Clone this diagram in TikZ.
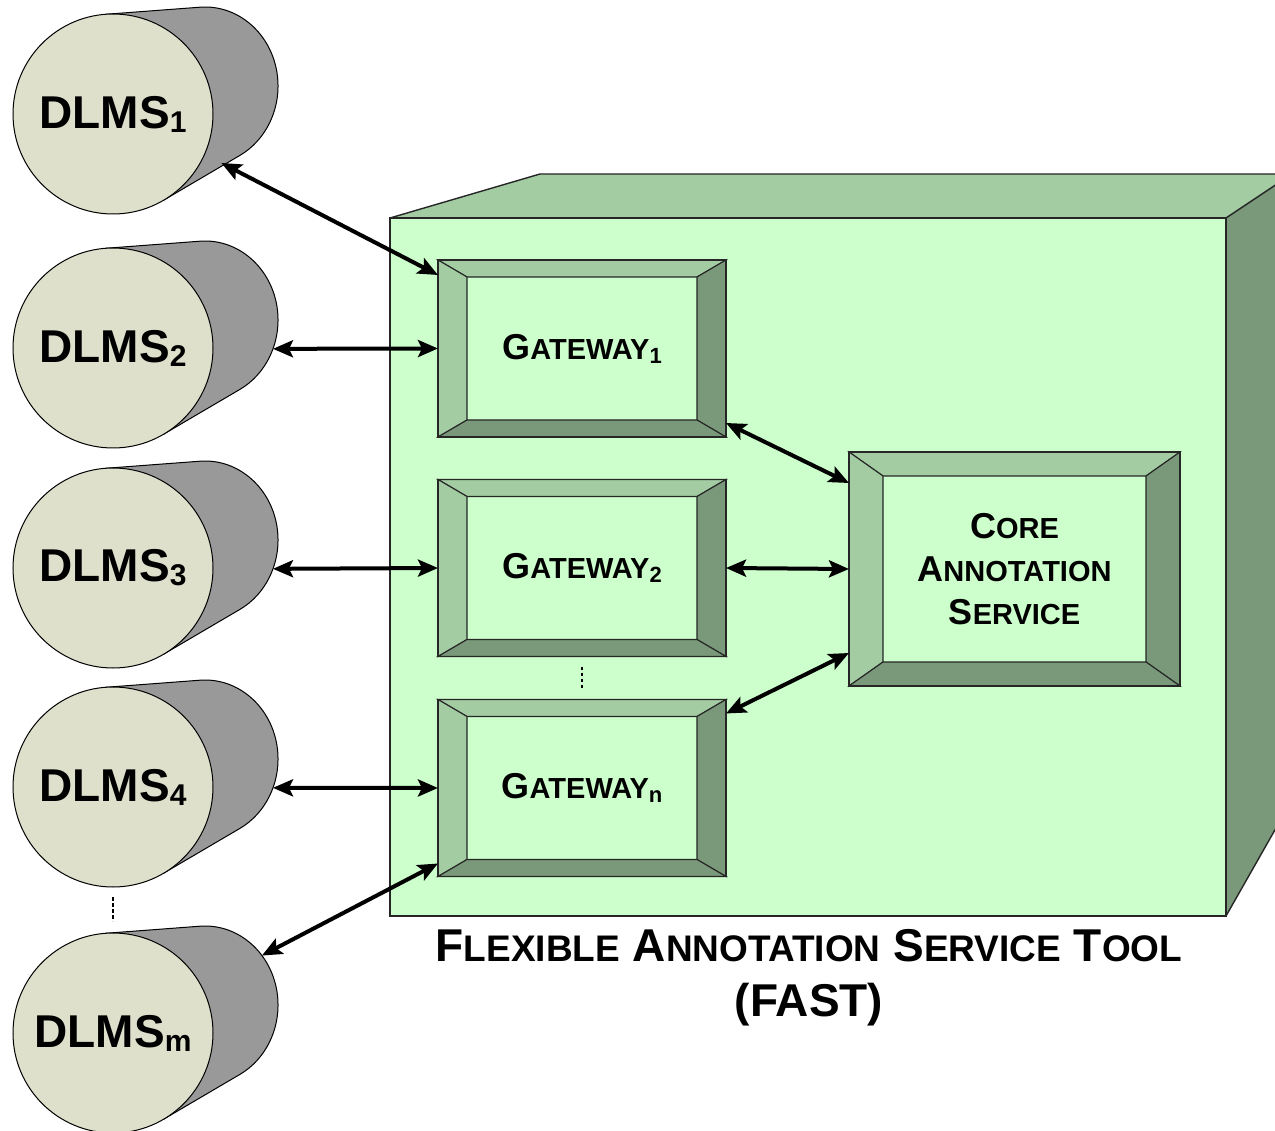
\documentclass[tikz,border=0pt]{standalone}
\usepackage{fontspec}
\setmainfont{Liberation Sans}
\usetikzlibrary{shapes.geometric,arrows.meta,calc}
\definecolor{facefront}{HTML}{CCFFCC}
\definecolor{facelight}{HTML}{A3CCA3}
\definecolor{facedark}{HTML}{7A997A}
\definecolor{cylfront}{HTML}{DEE0CB}
\definecolor{cylback}{HTML}{999999}
\newcommand\fs[2]{{\fontsize{#1}{#1}\selectfont #2}}
\newcommand\capsc[2]{\fs{36}{#1}\fs{29}{#2}}
\newcommand\titlesc[2]{\fs{46}{#1}\fs{37}{#2}}
\newcommand\dlmslabel[1]{\fs{46}{DLMS}\raisebox{-4pt}{\fs{30}{#1}}}
\newcommand\gwlabel[1]{\capsc{G}{ATEWAY}\raisebox{-4pt}{\fs{22}{#1}}}
% cylinder: name, x, y (image pixels, y downwards), label
\newcommand\cylinder[4]{%
  \begin{scope}[shift={(#2,-#3)}]
    \filldraw[cylbody] (-7.5,99.7) -- (87.0,106.8)
      arc[start angle=93.96, end angle=-61.5, x radius=73pt, y radius=79pt]
      -- (50.6,-86.2) -- cycle;
    \node[cylbackst] (#1b) at (92,28) {};
    \node[cylfrontst] (#1) at (0,0) {#4};
  \end{scope}}
% bevel frame on a box node: name, horizontal width, vertical width
\newcommand\bevel[3]{%
  \filldraw[bevlight] (#1.north west) -- (#1.north east) -- ($(#1.north east)+(-#2,-#3)$) -- ($(#1.north west)+(#2,-#3)$) -- cycle;
  \filldraw[bevlight] (#1.north west) -- ($(#1.north west)+(#2,-#3)$) -- ($(#1.south west)+(#2,#3)$) -- (#1.south west) -- cycle;
  \filldraw[bevdark] (#1.north east) -- (#1.south east) -- ($(#1.south east)+(-#2,#3)$) -- ($(#1.north east)+(-#2,-#3)$) -- cycle;
  \filldraw[bevdark] (#1.south west) -- ($(#1.south west)+(#2,#3)$) -- ($(#1.south east)+(-#2,#3)$) -- (#1.south east) -- cycle;
  \draw[outl] (#1.north west) rectangle (#1.south east);}
\begin{document}
\begin{tikzpicture}[x=1pt,y=1pt,
  outl/.style={draw=black!85, line width=1.4pt},
  bevlight/.style={fill=facelight, draw=black!85, line width=1.1pt},
  bevdark/.style={fill=facedark, draw=black!85, line width=1.1pt},
  cylbody/.style={fill=cylback, draw=black, line width=1pt},
  gwbox/.style={rectangle, fill=facefront, draw=black!85, line width=1.4pt, inner sep=0pt, outer sep=0pt, minimum width=288pt, minimum height=177pt, font=\bfseries},
  corebox/.style={gwbox, minimum width=331pt, minimum height=234pt, align=center, font=\fontsize{36}{43}\selectfont\bfseries},
  cylfrontst/.style={circle, fill=cylfront, draw=black, line width=1pt, minimum size=200pt, inner sep=0pt, outer sep=0pt, font=\bfseries},
  cylbackst/.style={ellipse, minimum width=146pt, minimum height=158pt, inner sep=0pt, outer sep=0pt},
  link/.style={line width=4pt, {Stealth[length=20pt,width=17pt,inset=4pt]}-{Stealth[length=20pt,width=17pt,inset=4pt]}},
  dots/.style={line width=2.5pt, dash pattern=on 3.5pt off 2.5pt},
  titletext/.style={font=\fontsize{46}{56}\selectfont\bfseries, anchor=base, inner sep=0pt}
]
\useasboundingbox (0,0) rectangle (1275,-1131);
\begin{scope}
\clip (0,0) rectangle (1275,-1131);
% cube
\fill[facelight] (390,-218) -- (540,-174) -- (1280,-174) -- (1280,-182) -- (1226,-218) -- cycle;
\fill[facedark] (1226,-218) -- (1280,-182) -- (1280,-821) -- (1226,-916) -- cycle;
\fill[facefront] (390,-218) rectangle (1226,-916);
\draw[outl] (390,-218) rectangle (1226,-916);
\draw[outl] (390,-218) -- (540,-174) -- (1280,-174);
\draw[outl] (1226,-218) -- (1280,-182);
\draw[outl] (1226,-916) -- (1280,-821);
\end{scope}
% cylinders
\cylinder{d1}{113}{114}{\dlmslabel{1}}
\cylinder{d2}{113}{348}{\dlmslabel{2}}
\cylinder{d3}{113}{568}{\dlmslabel{3}}
\cylinder{d4}{113}{787}{\dlmslabel{4}}
\cylinder{dm}{113}{1033}{\dlmslabel{m}}
% gateways and core
\node[gwbox] (g1) at (582,-348.5) {\gwlabel{1}};
\bevel{g1}{29}{17}
\node[gwbox] (g2) at (582,-568) {\gwlabel{2}};
\bevel{g2}{29}{17}
\node[gwbox] (gn) at (582,-788) {\gwlabel{n}};
\bevel{gn}{29}{17}
\node[corebox] (core) at (1014.5,-569) {\capsc{C}{ORE}\\\capsc{A}{NNOTATION}\\\capsc{S}{ERVICE}};
\bevel{core}{34}{24}
% ellipsis marks
\draw[dots] ($(g2.south)+(0,-10)$) -- ($(gn.north)+(0,10)$);
\draw[dots] ($(d4.south)+(0,-10)$) -- ($(dm.north)+(0,12)$);
% connectors
\draw[link] (d1b.-78) -- ($(g1.north west)+(0,-15)$);
\draw[link] (d2b.-23) -- (g1.west);
\draw[link] (d3b.-23) -- (g2.west);
\draw[link] (d4b.-23) -- (gn.west);
\draw[link] (dmb.41) -- ($(gn.south west)+(0,13)$);
\draw[link] ($(g1.south east)+(0,14)$) -- ($(core.north west)+(0,-31)$);
\draw[link] (g2.east) -- (core.west);
\draw[link] ($(gn.north east)+(0,-14)$) -- ($(core.south west)+(0,33)$);
% title
\node[titletext] (title) at (809,-961) {\titlesc{F}{LEXIBLE} \titlesc{A}{NNOTATION} \titlesc{S}{ERVICE} \titlesc{T}{OOL}};
\node[titletext] (fast) at (809,-1016) {(FAST)};
\end{tikzpicture}
\end{document}
